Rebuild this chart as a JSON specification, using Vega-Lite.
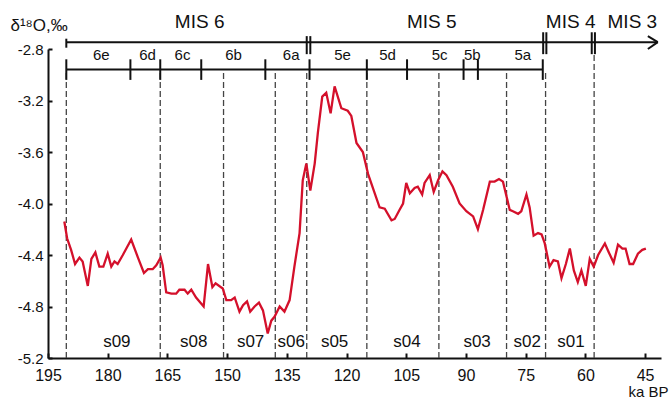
{
  "$schema": "https://vega.github.io/schema/vega-lite/v6.json",
  "width": 613,
  "height": 309,
  "autosize": {"type": "none"},
  "padding": {"left": 48, "top": 49, "right": 10, "bottom": 41},
  "config": {
    "view": {"stroke": null},
    "font": "Liberation Sans",
    "axis": {"grid": false}
  },
  "datasets": {
    "curve": [
      {"t":190.9,"v":-4.14},{"t":190.2,"v":-4.27},{"t":189.2,"v":-4.36},{"t":188.2,"v":-4.47},{"t":187.1,"v":-4.42},{"t":186.3,"v":-4.45},{"t":185.0,"v":-4.64},{"t":184.1,"v":-4.43},{"t":183.1,"v":-4.38},{"t":182.1,"v":-4.49},{"t":181.1,"v":-4.49},{"t":180.0,"v":-4.39},{"t":179.1,"v":-4.49},{"t":178.3,"v":-4.45},{"t":177.5,"v":-4.47},{"t":176.2,"v":-4.40},{"t":174.1,"v":-4.28},{"t":172.4,"v":-4.42},{"t":170.9,"v":-4.54},{"t":169.9,"v":-4.51},{"t":168.7,"v":-4.51},{"t":167.8,"v":-4.48},{"t":166.7,"v":-4.42},{"t":166.2,"v":-4.48},{"t":165.3,"v":-4.69},{"t":164.0,"v":-4.70},{"t":162.8,"v":-4.70},{"t":162.0,"v":-4.67},{"t":160.7,"v":-4.67},{"t":159.9,"v":-4.70},{"t":159.0,"v":-4.67},{"t":157.8,"v":-4.73},{"t":155.9,"v":-4.80},{"t":154.8,"v":-4.47},{"t":153.7,"v":-4.65},{"t":152.9,"v":-4.62},{"t":151.1,"v":-4.66},{"t":150.2,"v":-4.75},{"t":149.0,"v":-4.75},{"t":148.1,"v":-4.73},{"t":146.9,"v":-4.84},{"t":146.0,"v":-4.79},{"t":145.0,"v":-4.76},{"t":144.2,"v":-4.84},{"t":143.1,"v":-4.80},{"t":142.0,"v":-4.77},{"t":141.0,"v":-4.83},{"t":139.8,"v":-5.01},{"t":138.9,"v":-4.91},{"t":138.1,"v":-4.88},{"t":136.8,"v":-4.80},{"t":135.6,"v":-4.84},{"t":134.3,"v":-4.75},{"t":133.1,"v":-4.49},{"t":131.8,"v":-4.23},{"t":131.0,"v":-3.82},{"t":130.1,"v":-3.69},{"t":129.1,"v":-3.90},{"t":128.0,"v":-3.69},{"t":127.2,"v":-3.45},{"t":126.1,"v":-3.17},{"t":125.1,"v":-3.14},{"t":124.0,"v":-3.30},{"t":123.0,"v":-3.09},{"t":121.3,"v":-3.26},{"t":119.7,"v":-3.28},{"t":118.8,"v":-3.32},{"t":117.5,"v":-3.53},{"t":115.9,"v":-3.60},{"t":114.6,"v":-3.77},{"t":111.7,"v":-4.03},{"t":110.4,"v":-4.04},{"t":108.7,"v":-4.13},{"t":107.9,"v":-4.12},{"t":106.7,"v":-4.05},{"t":105.8,"v":-4.00},{"t":105.0,"v":-3.84},{"t":104.1,"v":-3.92},{"t":102.9,"v":-3.88},{"t":102.1,"v":-3.87},{"t":101.0,"v":-3.93},{"t":100.4,"v":-3.84},{"t":99.1,"v":-3.78},{"t":98.1,"v":-3.91},{"t":97.0,"v":-3.82},{"t":95.9,"v":-3.75},{"t":94.9,"v":-3.78},{"t":93.3,"v":-3.87},{"t":91.6,"v":-4.00},{"t":89.9,"v":-4.06},{"t":88.2,"v":-4.10},{"t":87.0,"v":-4.20},{"t":85.7,"v":-4.05},{"t":84.0,"v":-3.83},{"t":82.8,"v":-3.83},{"t":81.7,"v":-3.81},{"t":80.7,"v":-3.83},{"t":79.0,"v":-4.05},{"t":78.2,"v":-4.06},{"t":76.9,"v":-4.08},{"t":76.1,"v":-4.06},{"t":74.8,"v":-3.93},{"t":74.0,"v":-4.03},{"t":73.0,"v":-4.25},{"t":71.9,"v":-4.23},{"t":71.0,"v":-4.24},{"t":70.2,"v":-4.31},{"t":69.0,"v":-4.49},{"t":68.0,"v":-4.44},{"t":66.9,"v":-4.45},{"t":66.0,"v":-4.58},{"t":64.9,"v":-4.47},{"t":63.9,"v":-4.35},{"t":62.9,"v":-4.52},{"t":61.9,"v":-4.61},{"t":61.0,"v":-4.52},{"t":59.9,"v":-4.64},{"t":58.9,"v":-4.43},{"t":57.9,"v":-4.49},{"t":56.8,"v":-4.40},{"t":55.1,"v":-4.31},{"t":54.1,"v":-4.38},{"t":52.9,"v":-4.46},{"t":51.8,"v":-4.32},{"t":50.7,"v":-4.35},{"t":49.9,"v":-4.35},{"t":48.9,"v":-4.47},{"t":48.0,"v":-4.47},{"t":46.8,"v":-4.39},{"t":45.7,"v":-4.36},{"t":44.8,"v":-4.35}
    ],
    "dashed": [
      {"t":190.4,"v":-5.2,"v2":-2.97},{"t":166.8,"v":-5.2,"v2":-2.97},{"t":150.9,"v":-5.2,"v2":-2.97},{"t":137.9,"v":-5.2,"v2":-2.97},{"t":130.0,"v":-5.2,"v2":-2.97},{"t":114.9,"v":-5.2,"v2":-2.97},{"t":96.8,"v":-5.2,"v2":-2.97},{"t":79.8,"v":-5.2,"v2":-2.97},{"t":70.0,"v":-5.2,"v2":-2.97},{"t":57.8,"v":-5.2,"v2":-2.84}
    ],
    "segments": [
      {"t":190.4,"t2":41.8,"v":-2.747,"v2":-2.747},
      {"t":190.4,"t2":70.7,"v":-2.96,"v2":-2.96},
      {"t":44.3,"t2":41.8,"v":-2.70,"v2":-2.747},
      {"t":44.3,"t2":41.8,"v":-2.80,"v2":-2.747},
      {"t":190.4,"t2":190.4,"v":-2.72,"v2":-2.79},
      {"t":190.4,"t2":190.4,"v":-2.88,"v2":-3.04},
      {"t":174.3,"t2":174.3,"v":-2.88,"v2":-3.04},
      {"t":166.8,"t2":166.8,"v":-2.88,"v2":-3.04},
      {"t":156.5,"t2":156.5,"v":-2.88,"v2":-3.04},
      {"t":140.4,"t2":140.4,"v":-2.88,"v2":-3.04},
      {"t":129.3,"t2":129.3,"v":-2.88,"v2":-3.04},
      {"t":114.9,"t2":114.9,"v":-2.88,"v2":-3.04},
      {"t":104.8,"t2":104.8,"v":-2.88,"v2":-3.04},
      {"t":90.6,"t2":90.6,"v":-2.88,"v2":-3.04},
      {"t":87.0,"t2":87.0,"v":-2.88,"v2":-3.04},
      {"t":70.7,"t2":70.7,"v":-2.88,"v2":-3.04}
    ],
    "misbars": [
      {"t":130.0,"t2":130.0,"v":-2.70,"v2":-2.84},
      {"t":129.1,"t2":129.1,"v":-2.70,"v2":-2.84},
      {"t":70.6,"t2":70.6,"v":-2.67,"v2":-2.84},
      {"t":69.8,"t2":69.8,"v":-2.67,"v2":-2.84},
      {"t":58.4,"t2":58.4,"v":-2.67,"v2":-2.84},
      {"t":57.6,"t2":57.6,"v":-2.67,"v2":-2.84}
    ],
    "mislabels": [
      {"t":156.9,"v":-2.59,"label":"MIS 6"},
      {"t":98.6,"v":-2.59,"label":"MIS 5"},
      {"t":63.7,"v":-2.59,"label":"MIS 4"},
      {"t":48.2,"v":-2.59,"label":"MIS 3"}
    ],
    "sublabels": [
      {"t":181.6,"v":-2.85,"label":"6e"},
      {"t":170.0,"v":-2.85,"label":"6d"},
      {"t":161.2,"v":-2.85,"label":"6c"},
      {"t":148.4,"v":-2.85,"label":"6b"},
      {"t":133.9,"v":-2.85,"label":"6a"},
      {"t":121.0,"v":-2.85,"label":"5e"},
      {"t":109.7,"v":-2.85,"label":"5d"},
      {"t":96.6,"v":-2.85,"label":"5c"},
      {"t":88.4,"v":-2.85,"label":"5b"},
      {"t":75.7,"v":-2.85,"label":"5a"}
    ],
    "seglabels": [
      {"t":177.7,"v":-5.078,"label":"s09"},
      {"t":158.4,"v":-5.078,"label":"s08"},
      {"t":144.1,"v":-5.078,"label":"s07"},
      {"t":133.9,"v":-5.078,"label":"s06"},
      {"t":123.0,"v":-5.078,"label":"s05"},
      {"t":104.8,"v":-5.078,"label":"s04"},
      {"t":87.2,"v":-5.078,"label":"s03"},
      {"t":74.6,"v":-5.078,"label":"s02"},
      {"t":63.6,"v":-5.078,"label":"s01"}
    ]
  },
  "encoding": {
    "x": {
      "field": "t",
      "type": "quantitative",
      "scale": {"domain": [41, 195], "reverse": true, "nice": false, "zero": false},
      "axis": {
        "values": [195, 180, 165, 150, 135, 120, 105, 90, 75, 60, 45],
        "tickSize": -5,
        "tickWidth": 2,
        "tickColor": "#111",
        "domainColor": "#111",
        "domainWidth": 2,
        "labelPadding": 14,
        "labelFontSize": 16,
        "labelColor": "#111",
        "labelFlush": false,
        "labelOverlap": false,
        "labelBaseline": "top",
        "title": "ka BP",
        "titleFontSize": 15,
        "titleFontWeight": "normal",
        "titleColor": "#111",
        "titleAlign": "right",
        "titleBaseline": "middle",
        "titleX": 620,
        "titleY": 33
      }
    },
    "y": {
      "field": "v",
      "type": "quantitative",
      "scale": {"domain": [-5.2, -2.8], "nice": false, "zero": false},
      "axis": {
        "values": [-2.8, -3.2, -3.6, -4.0, -4.4, -4.8, -5.2],
        "labelExpr": "replace(format(datum.value, '.1f'), '\u2212', '-')",
        "tickSize": -4,
        "tickWidth": 2,
        "tickColor": "#111",
        "domainColor": "#111",
        "domainWidth": 2,
        "labelPadding": 9,
        "labelFontSize": 15,
        "labelColor": "#111",
        "labelOverlap": false,
        "title": "δ¹⁸O,‰",
        "titleAngle": 0,
        "titleAlign": "left",
        "titleBaseline": "alphabetic",
        "titleFontSize": 17,
        "titleFontWeight": "normal",
        "titleColor": "#111",
        "titleX": -38,
        "titleY": -19
      }
    }
  },
  "layer": [
    {
      "data": {"name": "dashed"},
      "mark": {"type": "rule", "strokeDash": [6, 3], "color": "#444", "strokeWidth": 1.3},
      "encoding": {"y2": {"field": "v2"}}
    },
    {
      "data": {"name": "segments"},
      "mark": {"type": "rule", "color": "#111", "strokeWidth": 2},
      "encoding": {"x2": {"field": "t2"}, "y2": {"field": "v2"}}
    },
    {
      "data": {"name": "misbars"},
      "mark": {"type": "rule", "color": "#111", "strokeWidth": 2},
      "encoding": {"x2": {"field": "t2"}, "y2": {"field": "v2"}}
    },
    {
      "data": {"name": "curve"},
      "mark": {"type": "line", "color": "#d4102b", "strokeWidth": 2.3},
      "encoding": {}
    },
    {
      "data": {"name": "mislabels"},
      "mark": {"type": "text", "fontSize": 19, "color": "#111", "baseline": "middle", "align": "center"},
      "encoding": {"text": {"field": "label"}}
    },
    {
      "data": {"name": "sublabels"},
      "mark": {"type": "text", "fontSize": 15, "color": "#111", "baseline": "middle", "align": "center"},
      "encoding": {"text": {"field": "label"}}
    },
    {
      "data": {"name": "seglabels"},
      "mark": {"type": "text", "fontSize": 17, "color": "#111", "baseline": "middle", "align": "center"},
      "encoding": {"text": {"field": "label"}}
    }
  ]
}
